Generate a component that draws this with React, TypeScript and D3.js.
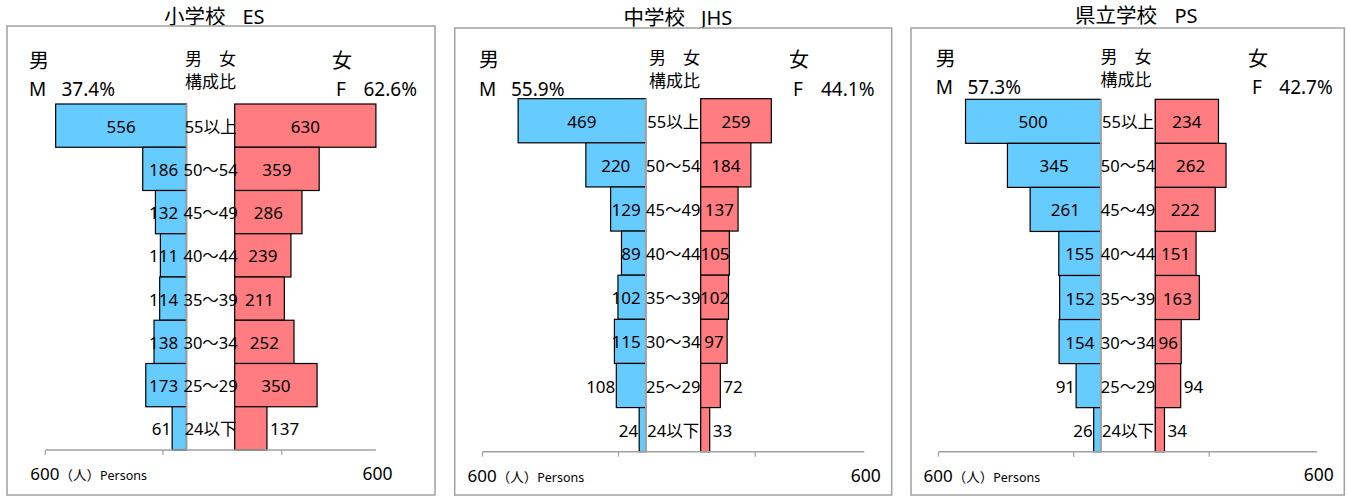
import React, { useEffect } from 'react';
import * as d3 from 'd3';

// ---- data ----
const ageGroups = ['55以上', '50～54', '45～49', '40～44', '35～39', '30～34', '25～29', '24以下'];
const esMale = [556, 186, 132, 111, 114, 138, 173, 61];
const esFemale = [630, 359, 286, 239, 211, 252, 350, 137];
const jhsMale = [469, 220, 129, 89, 102, 115, 108, 24];
const jhsFemale = [259, 184, 137, 105, 102, 97, 72, 33];
const psMale = [500, 345, 261, 155, 152, 154, 91, 26];
const psFemale = [234, 262, 222, 151, 163, 96, 94, 34];
const titlesJa = ['小学校', '中学校', '県立学校'];
const titlesEn = ['ES', 'JHS', 'PS'];
const malePct = ['37.4%', '55.9%', '57.3%'];
const femalePct = ['62.6%', '44.1%', '42.7%'];
const axisMax = 600;
const maleTicks = [600, 100];
const femaleTicks = [200];

const seriesMale = [esMale, jhsMale, psMale];
const seriesFemale = [esFemale, jhsFemale, psFemale];

// ---- layout ----
const FONT = "'Noto Sans', 'Noto Sans CJK JP', sans-serif";
const MALE_FILL = '#66CCFF';
const FEMALE_FILL = '#FF7C80';
const GRAY = '#A0A0A0';
const VAL_FS = 17;
const CAT_FS = 16.5;
const CAT_HALF = 26.5;
const DIGIT_W = 9.7;

const layouts = [
  {
    frame: [7, 26, 435, 495], titleX: 164, titleEnX: 242.5, titleY: 23.5,
    mLeft: 45.3, mZero: 186.5, fZero: 234.7, fRight: 375.9, top: 104, axisY: 450,
    manX: 29, manY: 67.5, pctY: 95.7, mPctX: 61.5, mfX: 185, mfY: 64.5, ratioY: 88,
    womanX: 332, fX: 336, fPctX: 363.5, bottomY: 480, bottomRightY: 479.5,
  },
  {
    frame: [454.7, 28, 891.7, 495], titleX: 623.5, titleEnX: 701, titleY: 24.5,
    mLeft: 482.5, mZero: 645.7, fZero: 700.7, fRight: 864.3, top: 98.7, axisY: 451.7,
    manX: 479, manY: 67, pctY: 95.7, mPctX: 511, mfX: 649, mfY: 63.5, ratioY: 86.5,
    womanX: 789, fX: 793, fPctX: 821, bottomY: 482.3, bottomRightY: 481.7,
  },
  {
    frame: [911, 28, 1344.3, 495], titleX: 1075, titleEnX: 1174.5, titleY: 22.5,
    mLeft: 938.5, mZero: 1100.7, fZero: 1155.3, fRight: 1317.3, top: 99.3, axisY: 451.7,
    manX: 935.7, manY: 65.5, pctY: 94.3, mPctX: 967.5, mfX: 1100.5, mfY: 62.5, ratioY: 85.5,
    womanX: 1248, fX: 1252, fPctX: 1279.3, bottomY: 482.3, bottomRightY: 480.5,
  },
];

function Panel({ idx }: { idx: number }) {
  const L = layouts[idx];
  const male = seriesMale[idx];
  const female = seriesFemale[idx];
  const mx = d3.scaleLinear().domain([0, axisMax]).range([L.mZero, L.mLeft]).clamp(true);
  const fx = d3.scaleLinear().domain([0, axisMax]).range([L.fZero, L.fRight]).clamp(true);
  const y = d3.scaleBand<string>().domain(ageGroups).range([L.top, L.axisY]).padding(0);
  const bw = y.bandwidth();
  const [x0, y0, x1, y1] = L.frame;
  const gapCenter = (L.mZero + L.fZero) / 2;
  const textW = (v: number) => String(v).length * DIGIT_W;
  const maleLimit = gapCenter - CAT_HALF - 6;

  return (
    <g fontFamily={FONT}>
      <text x={L.titleX} y={L.titleY} fontSize={20.5} fill="#000">{titlesJa[idx]}</text>
      <text x={L.titleEnX} y={L.titleY} fontSize={20} fill="#000">{titlesEn[idx]}</text>
      <rect x={x0} y={y0} width={x1 - x0} height={y1 - y0} fill="#fff" stroke={GRAY} strokeWidth={1.5} />

      <text x={L.manX} y={L.manY} fontSize={20}>男</text>
      <text x={L.manX} y={L.pctY} fontSize={19}>M</text>
      <text x={L.mPctX} y={L.pctY} fontSize={19}>{malePct[idx]}</text>
      <text x={L.womanX} y={L.manY} fontSize={20}>女</text>
      <text x={L.fX} y={L.pctY} fontSize={19}>F</text>
      <text x={L.fPctX} y={L.pctY} fontSize={19}>{femalePct[idx]}</text>
      <text x={L.mfX} y={L.mfY} fontSize={17}>男　女</text>
      <text x={L.mfX} y={L.ratioY} fontSize={17}>構成比</text>

      {/* zero line female (behind bars) */}
      <line x1={L.fZero} x2={L.fZero} y1={L.top} y2={L.axisY} stroke={GRAY} strokeWidth={1.5} />

      {ageGroups.map((g, i) => (
        <rect key={'m' + g} x={mx(male[i])} y={y(g)} width={L.mZero - mx(male[i])} height={bw}
          fill={MALE_FILL} stroke="#000" strokeWidth={1.2} />
      ))}
      {ageGroups.map((g, i) => (
        <rect key={'f' + g} x={L.fZero} y={y(g)} width={fx(female[i]) - L.fZero} height={bw}
          fill={FEMALE_FILL} stroke="#000" strokeWidth={1.2} />
      ))}

      {/* male zero axis line */}
      <line x1={L.mZero} x2={L.mZero} y1={L.top} y2={L.axisY} stroke={GRAY} strokeWidth={1.6} />

      {/* bottom axis */}
      <line x1={mx(axisMax)} x2={fx(axisMax)} y1={L.axisY} y2={L.axisY} stroke={GRAY} strokeWidth={1.5} />
      {maleTicks.map((t) => (
        <line key={'mt' + t} x1={mx(t)} x2={mx(t)} y1={L.axisY} y2={L.axisY + 5} stroke={GRAY} strokeWidth={1.2} />
      ))}
      {femaleTicks.map((t) => (
        <line key={'ft' + t} x1={fx(t)} x2={fx(t)} y1={L.axisY} y2={L.axisY + 5} stroke={GRAY} strokeWidth={1.2} />
      ))}
      <text x={mx(axisMax) - 15} y={L.bottomY} fontSize={17}>
        {axisMax}
        <tspan fontSize={13.5}>（人）</tspan>
        <tspan fontSize={12.5}>Persons</tspan>
      </text>
      <text x={fx(axisMax) + 1.5} y={L.bottomRightY} fontSize={17.5} textAnchor="middle">{axisMax}</text>

      {/* value labels */}
      {ageGroups.map((g, i) => {
        const v = male[i];
        const left = mx(v);
        const w = L.mZero - left;
        const cy = (y(g) as number) + bw / 2 + 7;
        const outside = i >= 6 && textW(v) + 6 > w;
        if (outside) {
          return <text key={'mv' + g} x={left - 1} y={cy} fontSize={VAL_FS} textAnchor="end">{v}</text>;
        }
        const cx = Math.min((left + L.mZero) / 2, maleLimit - textW(v) / 2);
        return <text key={'mv' + g} x={cx} y={cy} fontSize={VAL_FS} textAnchor="middle">{v}</text>;
      })}
      {ageGroups.map((g, i) => {
        const v = female[i];
        const right = fx(v);
        const w = right - L.fZero;
        const cy = (y(g) as number) + bw / 2 + 7;
        const outside = i >= 6 && textW(v) + 6 > w;
        return outside ? (
          <text key={'fv' + g} x={right + 3} y={cy} fontSize={VAL_FS} textAnchor="start">{v}</text>
        ) : (
          <text key={'fv' + g} x={(right + L.fZero) / 2} y={cy} fontSize={VAL_FS} textAnchor="middle">{v}</text>
        );
      })}

      {/* category labels */}
      {ageGroups.map((g) => (
        <text key={'c' + g} x={gapCenter} y={(y(g) as number) + bw / 2 + 7} fontSize={CAT_FS} textAnchor="middle">{g}</text>
      ))}
    </g>
  );
}

export default function App() {
  useEffect(() => {
    document.body.style.margin = '0';
  }, []);
  return (
    <svg width={1347} height={497} style={{ display: 'block', position: 'absolute', left: 0, top: 0, background: '#fff' }}>
      <rect x={0} y={0} width={1347} height={497} fill="#fff" />
      {[0, 1, 2].map((i) => (
        <Panel key={i} idx={i} />
      ))}
    </svg>
  );
}
